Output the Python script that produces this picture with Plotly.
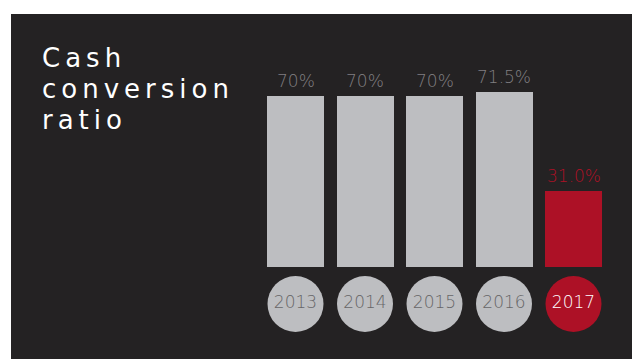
import plotly.graph_objects as go

years = ["2013", "2014", "2015", "2016", "2017"]
values = [70, 70, 70, 71.5, 31.0]
value_labels = ["70%", "70%", "70%", "71.5%", "31.0%"]
title_lines = ["Cash", "conversion", "ratio"]

W, H = 632, 359
BG = "#242223"
GREY = "#BDBEC1"
RED = "#AD1126"
LABEL_GREY = "#807f81"

bar_colors = [GREY] * 4 + [RED]
label_colors = [LABEL_GREY] * 4 + [RED]
circle_text_colors = ["#676668"] * 4 + ["#ffffff"]

FONT = "DejaVu Sans"

def px_x(p):
    return p / W

def px_y(p):
    return 1 - p / H

fig = go.Figure()

fig.add_trace(go.Bar(
    x=years, y=values, marker=dict(color=bar_colors, line=dict(width=0)),
    width=0.82, hoverinfo="skip", showlegend=False,
    xaxis="x", yaxis="y",
))

fig.add_trace(go.Scatter(
    x=years, y=[0.5] * len(years), mode="markers+text",
    marker=dict(size=56, color=bar_colors, line=dict(width=0)),
    text=years, textposition="middle center",
    textfont=dict(family=FONT, size=17, color=circle_text_colors, weight=200),
    hoverinfo="skip", showlegend=False,
    xaxis="x", yaxis="y2",
))

annotations = []
for i, (v, lab, col) in enumerate(zip(values, value_labels, label_colors)):
    annotations.append(dict(
        x=i, y=v, xref="x", yref="y", text=lab, showarrow=False,
        yanchor="bottom", yshift=3,
        font=dict(family=FONT, size=17, color=col, weight=200),
    ))

# title lines, one annotation each, baselines roughly 31 px apart
for k, t in enumerate(title_lines):
    annotations.append(dict(
        x=px_x(40), y=px_y(58 + 31 * k), xref="paper", yref="paper",
        xanchor="left", yanchor="middle", align="left", showarrow=False,
        text='<span style="letter-spacing:5px">%s</span>' % t,
        font=dict(family=FONT, size=26, color="#ffffff", weight=400),
    ))

x_left = 295.5 - 34.75
x_right = x_left + 5 * 69.5
y_zero = 267
y_top = 14
scale = 2.443

fig.update_layout(
    width=W, height=H, autosize=False,
    margin=dict(l=0, r=0, t=0, b=0),
    paper_bgcolor="#ffffff", plot_bgcolor="rgba(0,0,0,0)",
    bargap=0,
    shapes=[dict(type="rect", xref="paper", yref="paper",
                 x0=px_x(11), x1=1, y0=0, y1=px_y(14),
                 fillcolor=BG, line=dict(width=0), layer="below")],
    xaxis=dict(domain=[px_x(x_left), px_x(x_right)], range=[-0.5, 4.5],
               type="category", visible=False, fixedrange=True),
    yaxis=dict(domain=[px_y(y_zero), px_y(y_top)],
               range=[0, (y_zero - y_top) / scale], visible=False, fixedrange=True),
    yaxis2=dict(domain=[px_y(332), px_y(276)], range=[0, 1], visible=False,
                fixedrange=True, anchor="x"),
    annotations=annotations,
)

fig.write_html("out.html", config={"displayModeBar": False},
               post_script="document.body.style.margin='0';document.body.style.overflow='hidden';")
